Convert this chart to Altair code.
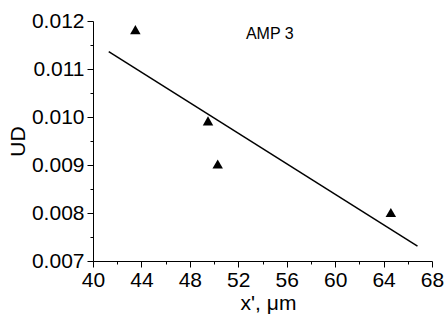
import altair as alt
import pandas as pd

# measured points
px = [43.5, 49.5, 50.3, 64.6]
py = [0.01182, 0.00992, 0.00902, 0.00801]
# fitted line endpoints
lx = [41.3, 66.8]
ly = [0.01136, 0.00731]
label_text = ["AMP 3"]
label_x = [54.6]
label_y = [0.01173]

x_major = [40, 44, 48, 52, 56, 60, 64, 68]
x_minor = [42, 46, 50, 54, 58, 62, 66]
y_major = [0.007, 0.008, 0.009, 0.010, 0.011, 0.012]
y_minor = [0.0075, 0.0085, 0.0095, 0.0105, 0.0115]

pts = pd.DataFrame({"x": px, "y": py})
line = pd.DataFrame({"x": lx, "y": ly})
lab = pd.DataFrame({"x": label_x, "y": label_y, "t": label_text})
minor = pd.DataFrame({"x": [x_minor[0]], "y": [y_minor[0]]})

FONT = "Liberation Sans"

xscale = alt.Scale(domain=[40, 68], nice=False, zero=False)
yscale = alt.Scale(domain=[0.007, 0.012], nice=False, zero=False)

common = dict(grid=False, domainColor="black", tickColor="black", labelColor="black",
              tickWidth=1, domainWidth=1)

xaxis = alt.Axis(
    values=x_major, orient="bottom", tickSize=6,
    labelFont=FONT, labelFontSize=21, labelPadding=2, labelFlush=False,
    title="x', \u03bcm", titleFont=FONT, titleFontSize=21, titleFontWeight="normal",
    titleColor="black", titlePadding=2, titleX=175, **common,
)
yaxis = alt.Axis(
    values=y_major, orient="left", format=".3f", tickSize=6,
    labelFont=FONT, labelFontSize=21, labelPadding=3, labelFlush=False,
    title="UD", titleFont=FONT, titleFontSize=21, titleFontWeight="normal",
    titleColor="black", titlePadding=3, **common,
)
xaxis_minor = alt.Axis(values=x_minor, orient="bottom", tickSize=3, labels=False,
                       domain=False, title=None, grid=False, tickColor="black")
yaxis_minor = alt.Axis(values=y_minor, orient="left", tickSize=3, labels=False,
                       domain=False, title=None, grid=False, tickColor="black")

base_line = alt.Chart(line).mark_line(color="black", strokeWidth=1.5).encode(
    x=alt.X("x:Q", scale=xscale, axis=xaxis),
    y=alt.Y("y:Q", scale=yscale, axis=yaxis),
)
minor_layer = alt.Chart(minor).mark_point(opacity=0).encode(
    x=alt.X("x:Q", scale=xscale, axis=xaxis_minor),
    y=alt.Y("y:Q", scale=yscale, axis=yaxis_minor),
)
points = alt.Chart(pts).mark_point(
    shape="triangle-up", filled=True, color="black", size=110, opacity=1
).encode(
    x=alt.X("x:Q", scale=xscale, axis=None),
    y=alt.Y("y:Q", scale=yscale, axis=None),
)
text = alt.Chart(lab).mark_text(font=FONT, fontSize=16, color="black").encode(
    x=alt.X("x:Q", scale=xscale, axis=None),
    y=alt.Y("y:Q", scale=yscale, axis=None),
    text="t:N",
)

chart = (
    alt.layer(base_line, minor_layer, points, text)
    .resolve_axis(x="independent", y="independent")
    .properties(
        width=339,
        height=240,
        autosize=alt.AutoSizeParams(type="none"),
        padding={"left": 93, "top": 21, "right": 13, "bottom": 59},
        background="white",
    )
    .configure_view(stroke=None)
)

chart.save("out.html", embed_options={"renderer": "svg", "actions": False})
